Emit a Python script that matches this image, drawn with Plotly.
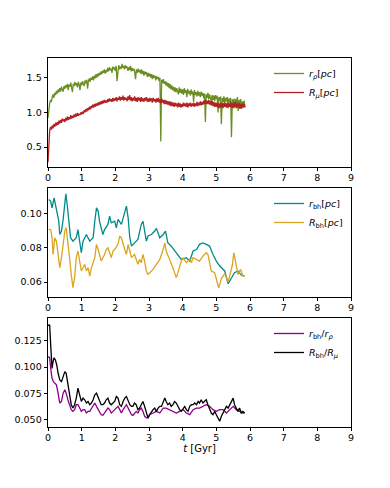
import plotly.graph_objects as go
from plotly.subplots import make_subplots

# ---------------- data ----------------
T1 = [0.000, 0.025, 0.050, 0.075, 0.100, 0.125, 0.150, 0.175, 0.200, 0.225,
      0.250, 0.275, 0.300, 0.325, 0.350, 0.375, 0.400, 0.425, 0.450, 0.475,
      0.500, 0.525, 0.550, 0.575, 0.600, 0.625, 0.650, 0.675, 0.700, 0.725,
      0.750, 0.775, 0.800, 0.825, 0.850, 0.875, 0.900, 0.925, 0.950, 0.975,
      1.000, 1.025, 1.050, 1.075, 1.100, 1.125, 1.150, 1.175, 1.200, 1.225,
      1.250, 1.275, 1.300, 1.325, 1.350, 1.375, 1.400, 1.425, 1.450, 1.475,
      1.500, 1.525, 1.550, 1.575, 1.600, 1.625, 1.650, 1.675, 1.700, 1.725,
      1.750, 1.775, 1.800, 1.825, 1.850, 1.875, 1.900, 1.925, 1.950, 1.975,
      2.000, 2.025, 2.050, 2.075, 2.100, 2.125, 2.150, 2.175, 2.200, 2.225,
      2.250, 2.275, 2.300, 2.325, 2.350, 2.375, 2.400, 2.425, 2.450, 2.475,
      2.500, 2.525, 2.550, 2.575, 2.600, 2.625, 2.650, 2.675, 2.700, 2.725,
      2.750, 2.775, 2.800, 2.825, 2.850, 2.875, 2.900, 2.925, 2.950, 2.975,
      3.000, 3.025, 3.050, 3.075, 3.100, 3.125, 3.150, 3.175, 3.200, 3.225,
      3.250, 3.275, 3.300, 3.325, 3.350, 3.375, 3.400, 3.425, 3.450, 3.475,
      3.500, 3.525, 3.550, 3.575, 3.600, 3.625, 3.650, 3.675, 3.700, 3.725,
      3.750, 3.775, 3.800, 3.825, 3.850, 3.875, 3.900, 3.925, 3.950, 3.975,
      4.000, 4.025, 4.050, 4.075, 4.100, 4.125, 4.150, 4.175, 4.200, 4.225,
      4.250, 4.275, 4.300, 4.325, 4.350, 4.375, 4.400, 4.425, 4.450, 4.475,
      4.500, 4.525, 4.550, 4.575, 4.600, 4.625, 4.650, 4.675, 4.700, 4.725,
      4.750, 4.775, 4.800, 4.825, 4.850, 4.875, 4.900, 4.925, 4.950, 4.975,
      5.000, 5.025, 5.050, 5.075, 5.100, 5.125, 5.150, 5.175, 5.200, 5.225,
      5.250, 5.275, 5.300, 5.325, 5.350, 5.375, 5.400, 5.425, 5.450, 5.475,
      5.500, 5.525, 5.550, 5.575, 5.600, 5.625, 5.650, 5.675, 5.700, 5.725,
      5.750, 5.775, 5.800, 5.825, 5.850]

r_rho = [0.92, 1.05, 1.13, 1.18, 1.15, 1.22, 1.26, 1.21, 1.28, 1.25,
         1.31, 1.27, 1.33, 1.29, 1.35, 1.30, 1.37, 1.33, 1.30, 1.38,
         1.34, 1.39, 1.36, 1.41, 1.32, 1.40, 1.37, 1.43, 1.38, 1.29,
         1.41, 1.38, 1.44, 1.39, 1.42, 1.36, 1.44, 1.40, 1.32, 1.43,
         1.39, 1.45, 1.41, 1.38, 1.46, 1.42, 1.47, 1.34, 1.45, 1.49,
         1.44, 1.50, 1.47, 1.52, 1.46, 1.53, 1.49, 1.55, 1.50, 1.56,
         1.52, 1.57, 1.54, 1.59, 1.55, 1.60, 1.57, 1.62, 1.56, 1.61,
         1.58, 1.64, 1.59, 1.65, 1.61, 1.63, 1.57, 1.66, 1.62, 1.65,
         1.60, 1.67, 1.45, 1.64, 1.68, 1.62, 1.66, 1.63, 1.70, 1.64,
         1.67, 1.62, 1.68, 1.64, 1.66, 1.60, 1.65, 1.61, 1.67, 1.59,
         1.64, 1.60, 1.63, 1.58, 1.48, 1.62, 1.57, 1.63, 1.58, 1.61,
         1.56, 1.62, 1.55, 1.60, 1.53, 1.59, 1.55, 1.58, 1.51, 1.57,
         1.52, 1.56, 1.50, 1.55, 1.48, 1.54, 1.50, 1.53, 1.46, 1.52,
         1.48, 1.51, 1.45, 1.50, 0.58, 1.47, 1.42, 1.48, 1.41, 1.45,
         1.39, 1.44, 1.37, 1.42, 1.35, 1.41, 1.33, 1.39, 1.32, 1.37,
         1.30, 1.36, 1.29, 1.35, 1.31, 1.26, 1.36, 1.28, 1.34, 1.27,
         1.33, 1.25, 1.35, 1.28, 1.32, 1.22, 1.34, 1.27, 1.31, 1.24,
         1.33, 1.26, 1.30, 1.15, 1.32, 1.25, 1.29, 1.23, 1.31, 1.24,
         1.29, 1.22, 1.30, 1.24, 1.28, 1.20, 1.27, 0.86, 1.26, 1.21,
         1.28, 1.19, 1.26, 1.22, 1.15, 1.25, 1.18, 1.24, 1.16, 1.25,
         1.19, 1.24, 1.00, 1.22, 1.17, 1.23, 0.83, 1.21, 1.15, 1.23,
         1.12, 1.21, 1.16, 1.22, 1.10, 1.20, 1.14, 1.21, 0.64, 1.19,
         1.12, 1.20, 1.06, 1.19, 1.13, 1.22, 1.02, 1.18, 1.11, 1.19,
         1.05, 1.16, 1.10, 1.17, 1.08]

R_mu = [0.28, 0.62, 0.74, 0.79, 0.75, 0.81, 0.77, 0.83, 0.79, 0.85,
        0.81, 0.86, 0.82, 0.88, 0.84, 0.89, 0.85, 0.91, 0.87, 0.90,
        0.86, 0.92, 0.88, 0.94, 0.89, 0.93, 0.90, 0.96, 0.91, 0.95,
        0.92, 0.97, 0.93, 0.98, 0.94, 0.99, 0.95, 0.98, 0.96, 1.00,
        0.97, 1.01, 0.98, 1.03, 1.00, 1.05, 1.01, 1.06, 1.03, 1.08,
        1.04, 1.09, 1.06, 1.11, 1.07, 1.12, 1.08, 1.13, 1.09, 1.14,
        1.10, 1.15, 1.11, 1.16, 1.12, 1.17, 1.13, 1.18, 1.14, 1.17,
        1.14, 1.19, 1.15, 1.20, 1.16, 1.19, 1.15, 1.21, 1.16, 1.20,
        1.17, 1.22, 1.16, 1.21, 1.18, 1.23, 1.17, 1.22, 1.18, 1.24,
        1.17, 1.22, 1.18, 1.21, 1.16, 1.23, 1.18, 1.25, 1.17, 1.22,
        1.16, 1.21, 1.17, 1.23, 1.16, 1.21, 1.15, 1.22, 1.17, 1.21,
        1.15, 1.22, 1.16, 1.20, 1.15, 1.21, 1.17, 1.22, 1.15, 1.20,
        1.15, 1.21, 1.16, 1.20, 1.14, 1.21, 1.16, 1.19, 1.14, 1.20,
        1.15, 1.21, 1.14, 1.19, 1.13, 1.20, 1.14, 1.18, 1.12, 1.18,
        1.12, 1.17, 1.11, 1.16, 1.10, 1.16, 1.09, 1.15, 1.09, 1.14,
        1.08, 1.14, 1.09, 1.13, 1.07, 1.14, 1.08, 1.13, 1.07, 1.12,
        1.08, 1.14, 1.09, 1.13, 1.08, 1.14, 1.07, 1.13, 1.09, 1.14,
        1.08, 1.13, 1.09, 1.14, 1.08, 1.13, 1.09, 1.15, 1.09, 1.14,
        1.10, 1.16, 1.10, 1.15, 1.11, 1.17, 1.12, 1.18, 1.12, 1.17,
        1.12, 1.18, 1.11, 1.16, 1.10, 1.17, 1.09, 1.15, 1.08, 1.14,
        1.08, 1.14, 1.07, 1.13, 1.06, 1.14, 1.07, 1.13, 1.06, 1.14,
        1.08, 1.13, 1.07, 1.14, 1.06, 1.13, 1.08, 1.15, 1.07, 1.13,
        1.06, 1.14, 1.08, 1.15, 1.06, 1.13, 1.07, 1.14, 1.05, 1.12,
        1.06, 1.13, 1.07, 1.12, 1.07]

T_rbh = [0.02, 0.08, 0.12, 0.18, 0.22, 0.28, 0.32, 0.35, 0.40, 0.45,
         0.50, 0.53, 0.57, 0.61, 0.67, 0.74, 0.84, 0.89, 0.94, 0.99,
         1.04, 1.14, 1.24, 1.34, 1.39, 1.44, 1.49, 1.53, 1.63, 1.68,
         1.78, 1.83, 1.88, 1.98, 2.03, 2.08, 2.18, 2.28, 2.33, 2.38,
         2.43, 2.48, 2.57, 2.67, 2.77, 2.82, 2.87, 2.92, 2.97, 3.07,
         3.17, 3.22, 3.32, 3.42, 3.49, 3.56, 3.66, 3.81, 3.96, 4.11,
         4.21, 4.31, 4.41, 4.50, 4.60, 4.70, 4.80, 4.90, 5.00, 5.10,
         5.25, 5.35, 5.45, 5.54, 5.64, 5.74, 5.84]
r_bh = [0.1084, 0.1074, 0.1035, 0.1094, 0.1055, 0.0996, 0.0957, 0.0879, 0.0899, 0.0967,
        0.1074, 0.1117, 0.1055, 0.0977, 0.0860, 0.0840, 0.0860, 0.0908, 0.0850, 0.0772,
        0.0840, 0.0879, 0.0840, 0.0860, 0.0957, 0.1035, 0.1016, 0.0957, 0.0879, 0.0908,
        0.0938, 0.0986, 0.0947, 0.0957, 0.0918, 0.0967, 0.0938, 0.1006, 0.1045, 0.0977,
        0.0860, 0.0811, 0.0830, 0.0850, 0.0938, 0.0957, 0.0900, 0.0840, 0.0870, 0.0879,
        0.0899, 0.0915, 0.0860, 0.0879, 0.0899, 0.0830, 0.0811, 0.0772, 0.0733, 0.0743,
        0.0723, 0.0782, 0.0791, 0.0821, 0.0830, 0.0821, 0.0811, 0.0762, 0.0723, 0.0694,
        0.0665, 0.0590, 0.0626, 0.0655, 0.0665, 0.0641, 0.0635]

T_Rbh = [0.02, 0.08, 0.12, 0.15, 0.20, 0.25, 0.30, 0.35, 0.40, 0.45,
         0.50, 0.54, 0.59, 0.64, 0.69, 0.74, 0.79, 0.84, 0.89, 0.94,
         0.99, 1.04, 1.09, 1.14, 1.19, 1.24, 1.29, 1.39, 1.44, 1.49,
         1.53, 1.58, 1.63, 1.68, 1.73, 1.78, 1.83, 1.88, 1.93, 1.98,
         2.08, 2.13, 2.18, 2.23, 2.28, 2.33, 2.38, 2.43, 2.48, 2.57,
         2.67, 2.72, 2.77, 2.82, 2.87, 2.92, 2.97, 3.02, 3.12, 3.22,
         3.32, 3.42, 3.47, 3.51, 3.56, 3.61, 3.71, 3.81, 3.86, 3.91,
         3.96, 4.01, 4.11, 4.21, 4.26, 4.31, 4.41, 4.50, 4.60, 4.70,
         4.75, 4.80, 4.85, 4.95, 5.00, 5.07, 5.15, 5.25, 5.35, 5.40,
         5.47, 5.52, 5.59, 5.64, 5.72, 5.79, 5.84]
R_bh = [0.0908, 0.0908, 0.0860, 0.0762, 0.0860, 0.0840, 0.0762, 0.0684, 0.0743, 0.0840,
        0.0899, 0.0918, 0.0840, 0.0743, 0.0645, 0.0567, 0.0626, 0.0743, 0.0782, 0.0723,
        0.0665, 0.0684, 0.0704, 0.0665, 0.0684, 0.0635, 0.0684, 0.0743, 0.0821, 0.0791,
        0.0762, 0.0723, 0.0743, 0.0762, 0.0791, 0.0801, 0.0772, 0.0743, 0.0782, 0.0791,
        0.0821, 0.0869, 0.0860, 0.0821, 0.0791, 0.0762, 0.0821, 0.0782, 0.0743, 0.0762,
        0.0704, 0.0733, 0.0713, 0.0762, 0.0723, 0.0665, 0.0645, 0.0655, 0.0674, 0.0704,
        0.0733, 0.0791, 0.0830, 0.0782, 0.0762, 0.0733, 0.0684, 0.0626, 0.0655, 0.0694,
        0.0723, 0.0743, 0.0713, 0.0733, 0.0713, 0.0743, 0.0733, 0.0723, 0.0752, 0.0772,
        0.0762, 0.0704, 0.0665, 0.0655, 0.0616, 0.0565, 0.0620, 0.0650, 0.0600, 0.0635,
        0.0694, 0.0772, 0.0694, 0.0645, 0.0674, 0.0635, 0.0635]

T_ratio_R = [0.00, 0.05, 0.08, 0.12, 0.15, 0.18, 0.22, 0.26, 0.30, 0.35,
             0.40, 0.45, 0.50, 0.54, 0.59, 0.64, 0.69, 0.74, 0.79, 0.84,
             0.89, 0.94, 0.99, 1.04, 1.09, 1.14, 1.19, 1.24, 1.29, 1.34,
             1.39, 1.44, 1.49, 1.53, 1.58, 1.63, 1.68, 1.73, 1.78, 1.83,
             1.88, 1.93, 1.98, 2.03, 2.08, 2.13, 2.18, 2.23, 2.28, 2.33,
             2.38, 2.43, 2.48, 2.52, 2.57, 2.62, 2.67, 2.72, 2.77, 2.82,
             2.87, 2.92, 2.97, 3.02, 3.07, 3.12, 3.17, 3.22, 3.27, 3.32,
             3.37, 3.42, 3.47, 3.51, 3.56, 3.61, 3.66, 3.71, 3.76, 3.81,
             3.86, 3.91, 3.96, 4.01, 4.06, 4.11, 4.16, 4.21, 4.26, 4.31,
             4.36, 4.41, 4.46, 4.50, 4.55, 4.60, 4.65, 4.70, 4.75, 4.80,
             4.85, 4.90, 4.95, 5.00, 5.05, 5.10, 5.15, 5.20, 5.25, 5.30,
             5.35, 5.40, 5.45, 5.50, 5.54, 5.59, 5.64, 5.69, 5.74, 5.79,
             5.84]
ratio_R = [0.1398, 0.1398, 0.1209, 0.0988, 0.1051, 0.1089, 0.1067, 0.1020, 0.0941, 0.0878,
           0.0862, 0.0910, 0.0957, 0.0941, 0.0831, 0.0736, 0.0642, 0.0610, 0.0642, 0.0705,
           0.0799, 0.0736, 0.0673, 0.0705, 0.0689, 0.0658, 0.0673, 0.0642, 0.0658, 0.0689,
           0.0736, 0.0752, 0.0705, 0.0673, 0.0642, 0.0642, 0.0658, 0.0689, 0.0705, 0.0658,
           0.0642, 0.0658, 0.0673, 0.0720, 0.0705, 0.0642, 0.0626, 0.0673, 0.0705, 0.0720,
           0.0673, 0.0642, 0.0626, 0.0626, 0.0658, 0.0642, 0.0595, 0.0610, 0.0642, 0.0673,
           0.0626, 0.0563, 0.0516, 0.0547, 0.0579, 0.0595, 0.0610, 0.0579, 0.0610, 0.0626,
           0.0626, 0.0658, 0.0705, 0.0673, 0.0642, 0.0658, 0.0626, 0.0642, 0.0673, 0.0658,
           0.0626, 0.0595, 0.0579, 0.0610, 0.0626, 0.0595, 0.0579, 0.0626, 0.0642, 0.0642,
           0.0658, 0.0642, 0.0673, 0.0658, 0.0689, 0.0658, 0.0673, 0.0689, 0.0642, 0.0595,
           0.0563, 0.0547, 0.0579, 0.0547, 0.0516, 0.0484, 0.0532, 0.0563, 0.0595, 0.0626,
           0.0610, 0.0642, 0.0673, 0.0705, 0.0642, 0.0610, 0.0579, 0.0610, 0.0563, 0.0579,
           0.0563]

T_ratio_r = [0.00, 0.05, 0.08, 0.12, 0.16, 0.20, 0.25, 0.30, 0.35, 0.40,
             0.45, 0.50, 0.54, 0.59, 0.64, 0.69, 0.74, 0.79, 0.84, 0.89,
             0.94, 0.99, 1.04, 1.09, 1.14, 1.19, 1.24, 1.29, 1.34, 1.39,
             1.44, 1.49, 1.53, 1.58, 1.63, 1.68, 1.73, 1.78, 1.83, 1.88,
             1.93, 1.98, 2.03, 2.08, 2.13, 2.18, 2.23, 2.28, 2.33, 2.38,
             2.43, 2.48, 2.52, 2.57, 2.62, 2.67, 2.72, 2.77, 2.82, 2.87,
             2.92, 2.97, 3.02, 3.12, 3.22, 3.32, 3.42, 3.51, 3.61, 3.71,
             3.81, 3.91, 4.01, 4.11, 4.21, 4.31, 4.41, 4.50, 4.60, 4.70,
             4.80, 4.90, 5.00, 5.10, 5.20, 5.30, 5.40, 5.50, 5.59, 5.69,
             5.79, 5.84]
ratio_r = [0.1099, 0.1089, 0.0988, 0.0894, 0.0862, 0.0847, 0.0831, 0.0752, 0.0658, 0.0673,
           0.0752, 0.0784, 0.0752, 0.0689, 0.0642, 0.0595, 0.0579, 0.0595, 0.0642, 0.0642,
           0.0610, 0.0579, 0.0595, 0.0595, 0.0563, 0.0579, 0.0579, 0.0610, 0.0626, 0.0658,
           0.0626, 0.0595, 0.0579, 0.0547, 0.0541, 0.0563, 0.0595, 0.0610, 0.0595, 0.0563,
           0.0579, 0.0595, 0.0610, 0.0626, 0.0595, 0.0563, 0.0595, 0.0626, 0.0642, 0.0610,
           0.0579, 0.0547, 0.0541, 0.0563, 0.0579, 0.0563, 0.0595, 0.0610, 0.0579, 0.0532,
           0.0516, 0.0516, 0.0547, 0.0563, 0.0579, 0.0563, 0.0610, 0.0610, 0.0595, 0.0579,
           0.0563, 0.0579, 0.0595, 0.0563, 0.0547, 0.0595, 0.0610, 0.0610, 0.0626, 0.0642,
           0.0626, 0.0595, 0.0579, 0.0595, 0.0595, 0.0563, 0.0595, 0.0626, 0.0595, 0.0579,
           0.0563, 0.0563]

X_TICKS = [0, 1, 2, 3, 4, 5, 6, 7, 8, 9]
Y1_TICKS = [0.5, 1.0, 1.5]
Y2_TICKS = [0.06, 0.08, 0.10]
Y3_TICKS = [0.050, 0.075, 0.100, 0.125]

NAMES = {
    "r_rho": "<i>r</i><sub><i>ρ</i></sub>[<i>pc</i>]",
    "R_mu": "<i>R</i><sub><i>μ</i></sub>[<i>pc</i>]",
    "r_bh": "<i>r</i><sub>bh</sub>[<i>pc</i>]",
    "R_bh": "<i>R</i><sub>bh</sub>[<i>pc</i>]",
    "ratio_r": "<i>r</i><sub>bh</sub>/<i>r</i><sub><i>ρ</i></sub>",
    "ratio_R": "<i>R</i><sub>bh</sub>/<i>R</i><sub><i>μ</i></sub>",
}

# ---------------- figure ----------------
# the page body has an 8px margin, so the figure is 8px smaller and margins shifted
FONT = "DejaVu Sans"
OFF = 8
W, H = 390 - OFF, 488 - OFF
ML, MR, MT, MB = 48 - OFF, 39, 58 - OFF, 61
PLOT_BOTTOM = 427          # page pixel of the lowest axis line
PH = H - MT - MB

def py(px):
    return (PLOT_BOTTOM - px) / PH

fig = make_subplots(rows=3, cols=1)

lw = 1.3
fig.add_trace(go.Scatter(x=T1, y=r_rho, mode="lines", name=NAMES["r_rho"],
                         line=dict(color="#6b8e23", width=lw), legend="legend"), row=1, col=1)
fig.add_trace(go.Scatter(x=T1, y=R_mu, mode="lines", name=NAMES["R_mu"],
                         line=dict(color="#b22222", width=lw), legend="legend"), row=1, col=1)
fig.add_trace(go.Scatter(x=T_rbh, y=r_bh, mode="lines", name=NAMES["r_bh"],
                         line=dict(color="#008b8b", width=lw), legend="legend2"), row=2, col=1)
fig.add_trace(go.Scatter(x=T_Rbh, y=R_bh, mode="lines", name=NAMES["R_bh"],
                         line=dict(color="#daa520", width=lw), legend="legend2"), row=2, col=1)
fig.add_trace(go.Scatter(x=T_ratio_r, y=ratio_r, mode="lines", name=NAMES["ratio_r"],
                         line=dict(color="#8b008b", width=lw), legend="legend3"), row=3, col=1)
fig.add_trace(go.Scatter(x=T_ratio_R, y=ratio_R, mode="lines", name=NAMES["ratio_R"],
                         line=dict(color="#000000", width=lw), legend="legend3"), row=3, col=1)

axis_common = dict(showline=True, linecolor="#000", linewidth=0.8, mirror=True,
                   ticks="outside", ticklen=3.5, tickwidth=0.8, tickcolor="#000",
                   showgrid=False, zeroline=False, automargin=False,
                   tickfont=dict(family=FONT, size=9.5, color="#000"))

domains = [(py(166.7), py(58)), (py(296.7), py(188.3)), (0.0, py(318.3))]
yranges = [(0.216, 1.784), (0.0514, 0.115), (0.043, 0.1464)]
yticks = [Y1_TICKS, Y2_TICKS, Y3_TICKS]
yfmt = [".1f", ".2f", ".3f"]
for i in range(3):
    n = "" if i == 0 else str(i + 1)
    fig.layout["xaxis" + n].update(range=[0, 9], tickvals=X_TICKS, ticklabelstandoff=-2,
                                   domain=[0, 1], **axis_common)
    fig.layout["yaxis" + n].update(domain=list(domains[i]), range=list(yranges[i]),
                                   tickvals=yticks[i], tickformat=yfmt[i], **axis_common)

fig.layout.xaxis3.title = dict(text="<i>t</i> [Gyr]", font=dict(family=FONT, size=10, color="#000"),
                               standoff=2)

leg_common = dict(font=dict(family=FONT, size=9.5, color="#000"), bgcolor="rgba(0,0,0,0)",
                  borderwidth=0, xanchor="left", yanchor="top", tracegroupgap=0,
                  itemwidth=30)
lx = (269 - 48) / 303
fig.update_layout(
    legend=dict(x=lx, y=py(59), **leg_common),
    legend2=dict(x=lx, y=py(189), **leg_common),
    legend3=dict(x=lx, y=py(319), **leg_common),
)

fig.update_layout(width=W, height=H, margin=dict(l=ML, r=MR, t=MT, b=MB, autoexpand=False),
                  paper_bgcolor="white", plot_bgcolor="white",
                  font=dict(family=FONT, size=9.5, color="#000"), showlegend=True)

fig.write_html("out.html")
